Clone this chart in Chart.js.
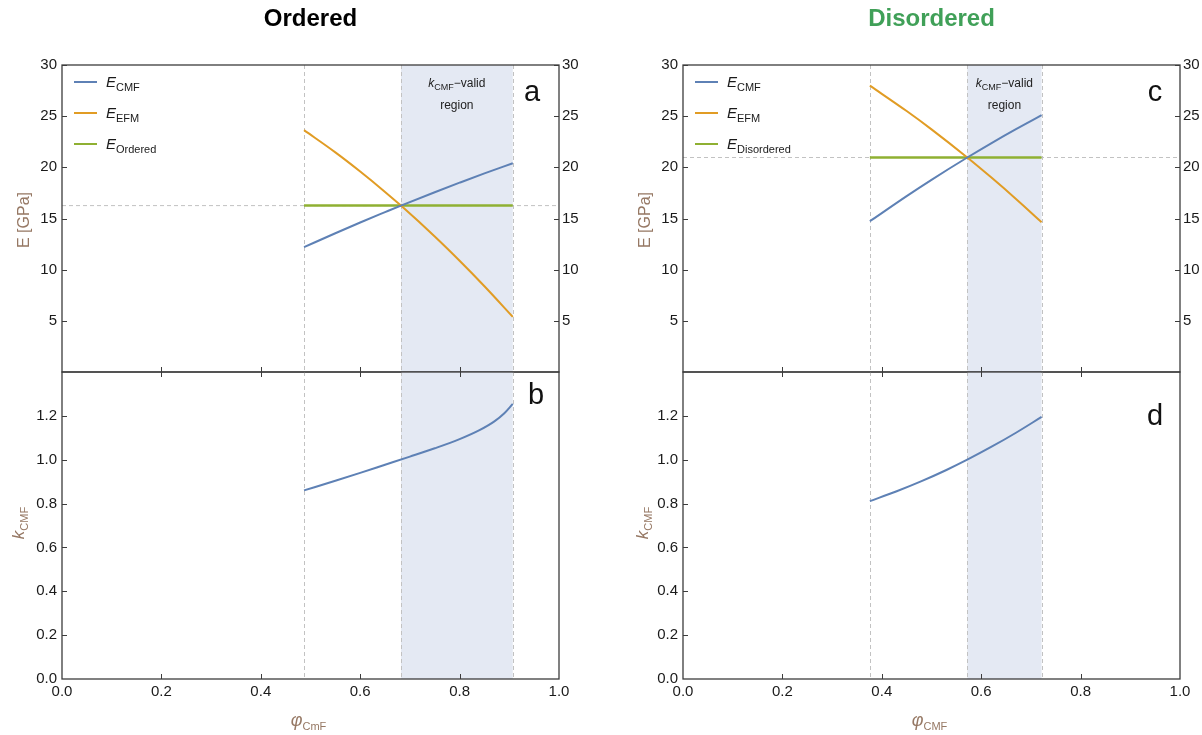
<!DOCTYPE html>
<html>
<head>
<meta charset="utf-8">
<script src="https://cdn.jsdelivr.net/npm/chart.js@4.4.0/dist/chart.umd.min.js"></script>
<style>
  body { margin: 0; background: #fff; }
  #wrap { position: relative; width: 1202px; height: 735px; }
  canvas { position: absolute; }
</style>
</head>
<body>
<div id="wrap">
  <canvas id="cA" width="601" height="380" style="left:0;top:0"></canvas>
  <canvas id="cC" width="601" height="380" style="left:601px;top:0"></canvas>
  <canvas id="cB" width="601" height="375" style="left:0;top:360px"></canvas>
  <canvas id="cD" width="601" height="375" style="left:601px;top:360px"></canvas>
</div>
<script>
// ---- data: ordered ----
const ordPhi = [0.487, 0.55, 0.6, 0.65, 0.682, 0.75, 0.8, 0.85, 0.907];
const ordCMF = [12.2, 13.56, 14.61, 15.62, 16.26, 17.57, 18.5, 19.41, 20.4];
const ordEFM = [23.63, 21.46, 19.59, 17.6, 16.26, 13.24, 10.87, 8.38, 5.39];
const ordFlatPhi = [0.487, 0.907];
const ordFlat = [16.26, 16.26];
const ordKPhi = [0.487, 0.55, 0.6, 0.65, 0.7, 0.75, 0.8, 0.84, 0.87, 0.89, 0.907];
const ordK = [0.86, 0.904, 0.94, 0.977, 1.014, 1.052, 1.094, 1.135, 1.175, 1.212, 1.255];
const ordLines = [0.487, 0.682, 0.907];
const ordRegion = [0.682, 0.907];

// ---- data: disordered ----
const disPhi = [0.376, 0.45, 0.5, 0.572, 0.62, 0.67, 0.7215];
const disCMF = [14.73, 17.19, 18.78, 20.96, 22.35, 23.73, 25.09];
const disEFM = [27.98, 25.5, 23.71, 20.96, 19.02, 16.91, 14.64];
const disFlatPhi = [0.376, 0.7215];
const disFlat = [20.96, 20.96];
const disKPhi = [0.376, 0.43, 0.48, 0.53, 0.572, 0.62, 0.67, 0.7215];
const disK = [0.811, 0.856, 0.902, 0.953, 1.0, 1.058, 1.123, 1.195];
const disLines = [0.376, 0.572, 0.7215];
const disRegion = [0.572, 0.7215];

// ---- tick values ----
const phiTicks = [0, 0.2, 0.4, 0.6, 0.8, 1.0];
const eTicks = [5, 10, 15, 20, 25, 30];
const kTicks = [0.2, 0.4, 0.6, 0.8, 1.0, 1.2];

const FONT = "'Liberation Sans', Arial, sans-serif";
const BLUE = "#5e81b5", ORANGE = "#e19c24", GREEN = "#8fb032";
const TXT = "#1a1a1a", LABEL = "rgb(150,120,100)", FRAME = "#3c3c3c";

function pts(xs, ys) { return xs.map((x, i) => ({ x: x, y: ys[i] })); }

function drawParts(ctx, parts, x, y, align) {
  let w = 0;
  parts.forEach(p => {
    ctx.font = (p.it ? "italic " : "") + (p.b ? "bold " : "") + p.s + "px " + FONT;
    p.w = ctx.measureText(p.t).width;
    w += p.w;
  });
  let cx = align === "center" ? x - w / 2 : x;
  ctx.textAlign = "left";
  ctx.textBaseline = "alphabetic";
  parts.forEach(p => {
    ctx.font = (p.it ? "italic " : "") + (p.b ? "bold " : "") + p.s + "px " + FONT;
    ctx.fillText(p.t, cx, y + (p.dy || 0));
    cx += p.w;
  });
}

function seg(ctx, x0, y0, x1, y1) {
  ctx.beginPath(); ctx.moveTo(x0, y0); ctx.lineTo(x1, y1); ctx.stroke();
}

// shading, dashed guides, frame, inward ticks and all the text
const deco = {
  id: "deco",
  beforeDatasetsDraw(chart, args, o) {
    const { ctx, chartArea: a, scales } = chart;
    const x = scales.x;
    ctx.save();
    const x0 = x.getPixelForValue(o.region[0]), x1 = x.getPixelForValue(o.region[1]);
    ctx.fillStyle = "rgb(228,233,243)";
    ctx.fillRect(x0, a.top, x1 - x0, a.bottom - a.top);
    ctx.strokeStyle = "#c2c2c2";
    ctx.lineWidth = 1;
    ctx.setLineDash([4, 3]);
    o.vlines.forEach(v => {
      const px = Math.round(x.getPixelForValue(v)) + 0.5;
      seg(ctx, px, a.top, px, a.bottom);
    });
    if (o.hline != null) {
      const py = scales.y.getPixelForValue(o.hline);
      seg(ctx, a.left, py, a.right, py);
    }
    ctx.restore();
  },
  afterDraw(chart, args, o) {
    const { ctx, chartArea: a, scales } = chart;
    const x = scales.x, y = scales.y;
    ctx.save();
    ctx.strokeStyle = FRAME;
    ctx.lineWidth = 1.3;
    ctx.strokeRect(a.left, a.top, a.right - a.left, a.bottom - a.top);
    ctx.lineWidth = 1;
    const T = 5;
    phiTicks.slice(1, -1).forEach(v => {
      const px = Math.round(x.getPixelForValue(v)) + 0.5;
      seg(ctx, px, a.bottom, px, a.bottom - T);
      if (o.topTicks) seg(ctx, px, a.top, px, a.top + T);
    });
    o.yTicks.forEach(v => {
      const py = Math.round(y.getPixelForValue(v)) + 0.5;
      seg(ctx, a.left, py, a.left + T, py);
      if (o.rightTicks) seg(ctx, a.right, py, a.right - T, py);
    });

    ctx.fillStyle = TXT;
    const cx = (a.left + a.right) / 2;
    if (o.title) {
      ctx.fillStyle = o.titleColor;
      drawParts(ctx, [{ t: o.title, s: 24, b: true }], cx, 26, "center");
    }
    if (o.legend) {
      ctx.lineWidth = 2;
      o.legend.forEach((l, i) => {
        const ly = 82 + i * 31;
        ctx.strokeStyle = l[1];
        seg(ctx, a.left + 12, ly, a.left + 35, ly);
        ctx.fillStyle = TXT;
        drawParts(ctx, [{ t: "E", s: 15, it: true }, { t: l[0], s: 11, dy: 4 }], a.left + 44, ly + 5, "left");
      });
    }
    if (o.regionText) {
      const rx = (x.getPixelForValue(o.region[0]) + x.getPixelForValue(o.region[1])) / 2;
      ctx.fillStyle = "#222";
      drawParts(ctx, [{ t: "k", s: 12, it: true }, { t: "CMF", s: 9, dy: 3 }, { t: "\u2212valid", s: 12 }], rx, 87, "center");
      drawParts(ctx, [{ t: "region", s: 12 }], rx, 109, "center");
    }
    ctx.fillStyle = "#111";
    drawParts(ctx, [{ t: o.letter[0], s: 29 }], a.right + o.letter[1], o.letter[2], "center");

    ctx.fillStyle = LABEL;
    ctx.save();
    ctx.translate(o.yTitle[1], o.yTitle[2]);
    ctx.rotate(-Math.PI / 2);
    drawParts(ctx, o.yTitle[0], 0, 5, "center");
    ctx.restore();
    if (o.xTitle) drawParts(ctx, o.xTitle, cx - 2, 366, "center");
    ctx.restore();
  }
};
Chart.register(deco);

function yScale(min, max, step, width, pos, pad, fmt) {
  return {
    type: "linear", position: pos, min: min, max: max,
    ticks: { stepSize: step, padding: pad, color: TXT, font: { size: 15, family: FONT }, callback: fmt },
    grid: { display: false, drawTicks: false },
    border: { display: false },
    afterFit(s) { s.width = width; s.paddingTop = 0; s.paddingBottom = 0; }
  };
}

function line(data, color, w) {
  return { data: data, borderColor: color, borderWidth: w || 2, pointRadius: 0, showLine: true,
           fill: false, cubicInterpolationMode: "monotone" };
}

function baseOpts(plugins, padding, scales) {
  return {
    responsive: false, animation: false, devicePixelRatio: 1, events: [],
    layout: { padding: padding },
    plugins: Object.assign({ legend: { display: false }, tooltip: { enabled: false } }, plugins),
    scales: scales
  };
}

function topChart(id, phi, cmf, efm, flatPhi, flat, lines, region, hline, name, color, leftW, rightW, letter, ytx) {
  const eFmt = v => (v === 0 ? "" : v);
  new Chart(document.getElementById(id), {
    type: "scatter",
    data: { datasets: [line(pts(phi, cmf), BLUE), line(pts(phi, efm), ORANGE), line(pts(flatPhi, flat), GREEN, 2.5)] },
    options: baseOpts(
      { deco: { region: region, vlines: lines, hline: hline, yTicks: eTicks, rightTicks: true, topTicks: false,
                title: name, titleColor: color, legend: [["CMF", BLUE], ["EFM", ORANGE], [name, GREEN]],
                regionText: true, letter: letter, yTitle: [[{ t: "E [GPa]", s: 16 }], ytx, 220] } },
      { top: 65, bottom: 8, left: 0, right: 0 },
      {
        x: { type: "linear", min: 0, max: 1, display: false },
        y: yScale(0, 30, 5, leftW, "left", 5, eFmt),
        y2: yScale(0, 30, 5, rightW, "right", 3, eFmt)
      })
  });
}

function bottomChart(id, kPhi, k, lines, region, leftW, rightPad, letter, ytx, sub) {
  new Chart(document.getElementById(id), {
    type: "scatter",
    data: { datasets: [line(pts(kPhi, k), BLUE)] },
    options: baseOpts(
      { deco: { region: region, vlines: lines, hline: null, yTicks: kTicks, rightTicks: false, topTicks: true,
                letter: letter,
                yTitle: [[{ t: "k", s: 17, it: true }, { t: "CMF", s: 11, dy: 4 }], ytx, 163],
                xTitle: [{ t: "\u03c6", s: 18, it: true }, { t: sub, s: 11, dy: 4 }] } },
      { top: 12, bottom: 0, left: 0, right: rightPad },
      {
        x: {
          type: "linear", min: 0, max: 1,
          ticks: { stepSize: 0.2, padding: 4, color: TXT, font: { size: 15, family: FONT }, callback: v => v.toFixed(1) },
          grid: { display: false, drawTicks: false },
          border: { display: false },
          afterFit(s) { s.height = 56; s.paddingLeft = 0; s.paddingRight = 0; }
        },
        y: yScale(0, 1.4, 0.2, leftW, "left", 5, v => (v > 1.3 ? "" : v.toFixed(1)))
      })
  });
}

topChart("cA", ordPhi, ordCMF, ordEFM, ordFlatPhi, ordFlat, ordLines, ordRegion, 16.26,
         "Ordered", "#000", 62, 42, ["a", -27, 101], 24);
topChart("cC", disPhi, disCMF, disEFM, disFlatPhi, disFlat, disLines, disRegion, 20.96,
         "Disordered", "rgb(64,160,88)", 82, 22, ["c", -25, 101], 44);
bottomChart("cB", ordKPhi, ordK, ordLines, ordRegion, 62, 42, ["b", -23, 44], 19, "CmF");
bottomChart("cD", disKPhi, disK, disLines, disRegion, 82, 22, ["d", -25, 65], 42, "CMF");
</script>
</body>
</html>
